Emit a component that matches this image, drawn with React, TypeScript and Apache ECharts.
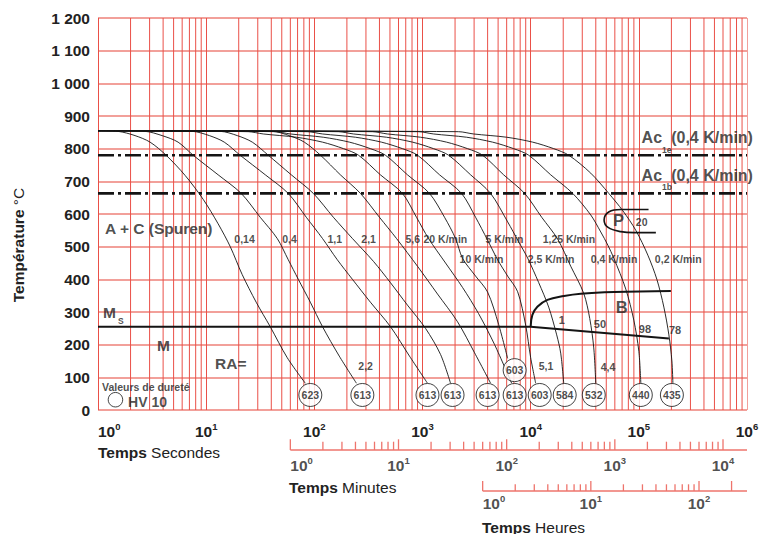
import { useEffect, useRef } from 'react';
import * as echarts from 'echarts';

const FONT = '"Liberation Sans", Arial, Helvetica, sans-serif';
const INK = '#222222';
const LINE_INK = '#141414';
const GRID_RED = '#ea5048';
const GRID_PINK = '#f2a09a';
const SCALE_RED = '#ee746c';

type Pt = [number, number];
type Ann = { text: string; t: number; T: number };

// ---------- axis tick labels ----------
const Y_TICK_LABELS = ['0', '100', '200', '300', '400', '500', '600', '700', '800', '900', '1 000', '1 100', '1 200'];
const SECONDS_EXPONENTS = [0, 1, 2, 3, 4, 5, 6];
const MINUTES_EXPONENTS = [0, 1, 2, 3, 4];
const HOURS_EXPONENTS = [0, 1, 2];
const DECADE_MULTIPLES = [2, 3, 4, 5, 6, 7, 8, 9];
const MINUTE_TICKS = [1, 2, 3, 4, 5, 6, 7, 8, 9, 10, 20, 30, 40, 50, 60, 70, 80, 90, 100, 200, 300, 400, 500, 600, 700, 800, 900, 1000, 2000, 3000, 4000, 5000, 6000, 7000, 8000, 9000, 10000];
const MINUTE_MAJOR = [1, 10, 100, 1000, 10000];
const HOUR_TICKS = [1, 2, 3, 4, 5, 6, 7, 8, 9, 10, 20, 30, 40, 50, 60, 70, 80, 90, 100, 200];
const HOUR_MAJOR = [1, 10, 100, 200];
const SEC_PER_MIN = 60;
const SEC_PER_HOUR = 3600;

// ---------- cooling curves [time s, temperature °C] ----------
const C_014: Pt[] = [[1, 855], [1.53, 853], [2.2, 840], [3.03, 820], [4.26, 780], [6.39, 718], [9.38, 645], [12.9, 570], [16.7, 500], [21.5, 415], [29, 330], [39.1, 255], [56.2, 160], [82.5, 82]];
const C_04: Pt[] = [[1, 855], [2.72, 853], [3.91, 840], [5.5, 820], [7.58, 780], [12.9, 720], [21.1, 663], [31.6, 590], [45.4, 525], [57.4, 460], [71.1, 400], [91.8, 330], [119, 255], [170, 165], [245, 82]];
const C_11: Pt[] = [[1, 855], [7.42, 853], [10.7, 840], [14.7, 820], [20.6, 780], [35.2, 720], [57.4, 663], [84.3, 590], [119, 525], [163, 460], [225, 400], [330, 330], [506, 255], [758, 165], [1112, 82]];
const C_21: Pt[] = [[1, 855], [13.5, 853], [19.4, 840], [26.7, 820], [37.5, 780], [61.2, 720], [97.9, 663], [150, 590], [225, 525], [352, 455], [505, 390], [726, 321], [1066, 250], [1468, 170], [1817, 82]];
const C_56: Pt[] = [[1, 855], [40.8, 853], [58.7, 840], [80.8, 820], [114, 780], [174, 720], [267, 663], [400, 590], [575, 525], [899, 440], [1377, 355], [2109, 270], [3030, 175], [4262, 82]];
const C_20KMIN: Pt[] = [[1, 855], [24.5, 852], [33.7, 845], [68.1, 835], [119, 820], [186, 800], [256, 780], [408, 720], [653, 663], [880, 590], [1137, 525], [1633, 450], [2347, 375], [3300, 295], [4642, 200], [6670, 82]];
const C_10KMIN: Pt[] = [[1, 855], [43.5, 852], [60, 845], [121, 835], [211, 820], [330, 800], [454, 780], [726, 720], [1161, 663], [1598, 590], [2021, 525], [2347, 464], [3095, 410], [3998, 361], [5054, 262], [6124, 158]];
const C_5KMIN: Pt[] = [[1, 855], [86.1, 852], [119, 845], [240, 835], [417, 820], [653, 800], [899, 780], [1437, 720], [2297, 663], [3095, 590], [3998, 520], [4948, 460], [6124, 410], [7579, 362], [8989, 260], [10000, 160], [11125, 82]];
const C_25KMIN: Pt[] = [[1, 855], [167, 852], [230, 845], [464, 835], [808, 820], [1265, 800], [1741, 780], [2783, 720], [4262, 663], [6124, 576], [7743, 515], [9380, 465], [11862, 390], [14678, 315], [17402, 230], [18958, 174], [20214, 82]];
const C_125KMIN: Pt[] = [[1, 855], [344, 852], [474, 845], [958, 835], [1668, 820], [2610, 800], [3594, 780], [5623, 720], [8799, 663], [12646, 590], [17783, 523], [23470, 440], [30950, 357], [35185, 280], [38312, 190], [39990, 82]];
const C_04KMIN: Pt[] = [[1, 855], [918, 852], [1265, 845], [2555, 835], [4446, 820], [6960, 800], [9583, 780], [15318, 720], [24484, 663], [35938, 597], [44463, 545], [51642, 505], [58685, 465], [75790, 370], [89889, 275], [100000, 180], [104350, 82]];
const C_02KMIN: Pt[] = [[1, 855], [2154, 852], [2967, 845], [5995, 835], [10435, 820], [16331, 800], [22480, 780], [35938, 725], [52749, 663], [71101, 610], [93800, 550], [121150, 474], [146780, 400], [170400, 315], [189570, 230], [202140, 150], [206470, 82]];
const COOLING_CURVES = [C_014, C_04, C_11, C_21, C_56, C_20KMIN, C_10KMIN, C_5KMIN, C_25KMIN, C_125KMIN, C_04KMIN, C_02KMIN];

// ---------- transformation lines ----------
const AC1E_TEMP = 780;
const AC1B_TEMP = 663;
const MS_LINE: Pt[] = [[1, 255], [10000, 255], [189600, 219]];
const BAINITE_START: Pt[] = [[10000, 255], [10370, 291], [11530, 316], [14270, 337], [20340, 349], [29040, 356], [59070, 361], [197800, 364]];
const PEARLITE_NOSE: Pt[] = [[122960, 614], [68130, 614], [53090, 607], [47720, 582], [51960, 559], [68130, 546], [90470, 543], [143700, 543]];

// ---------- hardness HV 10 ----------
const HARDNESS_VALUES = ['623', '613', '613', '613', '613', '613', '603', '603', '584', '532', '440', '435'];
const HARDNESS_TIMES = [91.8, 278, 1112, 1896, 3998, 7110, 7110, 12120, 20640, 38310, 104300, 202100];
const HARDNESS_TEMPS = [46, 46, 46, 46, 46, 46, 122, 46, 46, 46, 46, 46];
const LEGEND_CIRCLE: Pt = [1.45, 31.5];

// ---------- annotations ----------
const RATE_LABELS: Ann[] = [
  { text: '0,14', t: 18.2, T: 522 },
  { text: '0,4', t: 50.5, T: 522 },
  { text: '1,1', t: 132, T: 522 },
  { text: '2,1', t: 272, T: 522 },
  { text: '5,6', t: 696, T: 522 },
  { text: '20 K/min', t: 1022, T: 522 },
  { text: '5 K/min', t: 3830, T: 522 },
  { text: '1,25 K/min', t: 12900, T: 522 },
  { text: '10 K/min', t: 2200, T: 461 },
  { text: '2,5 K/min', t: 9380, T: 461 },
  { text: '0,4 K/min', t: 35900, T: 461 },
  { text: '0,2 K/min', t: 140700, T: 461 },
];
const RA_LABELS: Ann[] = [
  { text: '2,2', t: 255, T: 135 },
  { text: '5,1', t: 11860, T: 135 },
  { text: '4,4', t: 44460, T: 132 },
];
const BAINITE_PERCENT: Ann[] = [
  { text: '1', t: 18170, T: 275 },
  { text: '50', t: 38310, T: 262 },
  { text: '98', t: 100000, T: 248 },
  { text: '78', t: 189600, T: 245 },
];
const REGION_LABELS: Ann[] = [
  { text: 'A + C (Spuren)', t: 1.16, T: 557 },
  { text: 'M', t: 1.113, T: 299 },
  { text: 'M', t: 3.52, T: 197 },
  { text: 'RA=', t: 12.1, T: 141 },
];
const PHASE_LETTERS: Ann[] = [
  { text: 'B', t: 61240, T: 314 },
  { text: 'P', t: 57810, T: 582 },
];
const SMALL_NOTES: Ann[] = [
  { text: '20', t: 93800, T: 575 },
  { text: 'Valeurs de dureté', t: 1.089, T: 71 },
];
const SUBSCRIPTS: Ann[] = [
  { text: 'S', t: 1.532, T: 272 },
  { text: '1e', t: 164000, T: 797 },
  { text: '1b', t: 164000, T: 684 },
];
const AC_LABELS: Ann[] = [
  { text: 'Ac', t: 106000, T: 835 },
  { text: '(0,4 K/min)', t: 199000, T: 835 },
  { text: 'Ac', t: 106000, T: 717 },
  { text: '(0,4 K/min)', t: 199000, T: 717 },
];
const HV_LABEL: Ann = { text: 'HV 10', t: 1.896, T: 25 };

const POW_RICH = {
  b: { fontSize: 15.5, fontWeight: 'bold', lineHeight: 20, color: INK, fontFamily: FONT },
  s: { fontSize: 9.5, fontWeight: 'bold', lineHeight: 9, verticalAlign: 'top', color: INK, fontFamily: FONT },
};
const powText = (e: number) => `{b|10}{s|${e}}`;

function annItems(list: Ann[], size: number, weight: string = 'bold') {
  return list.map((a) => ({
    value: [a.t, a.T],
    label: { formatter: a.text, fontSize: size, fontWeight: weight },
  }));
}

export default function App() {
  const ref = useRef<HTMLDivElement>(null);

  useEffect(() => {
    document.body.style.margin = '0';
    const chart = echarts.init(ref.current!, null, { renderer: 'svg', width: 759, height: 534 });

    const vgrid: number[][] = [];
    for (const e of [0, 1, 2, 3, 4, 5]) for (const m of DECADE_MULTIPLES) vgrid.push([m * Math.pow(10, e), 0]);

    const minuteTicks = MINUTE_TICKS.map((m) => [m * SEC_PER_MIN, 45, MINUTE_MAJOR.includes(m) ? 55.7 : 53.3]);
    const hourTicks = HOUR_TICKS.map((h) => [h * SEC_PER_HOUR, 43, HOUR_MAJOR.includes(h) ? 53 : 49.7]);

    const tickRender = (color: string) => (_p: any, api: any) => {
      const a = api.coord([api.value(0), api.value(1)]);
      const b = api.coord([api.value(0), api.value(2)]);
      return { type: 'line', shape: { x1: a[0], y1: a[1], x2: b[0], y2: b[1] }, style: { stroke: color, lineWidth: 1.3 } };
    };

    const lineBase = {
      type: 'line',
      showSymbol: false,
      symbol: 'none',
      silent: true,
      animation: false,
      xAxisIndex: 0,
      yAxisIndex: 0,
    };

    const series: any[] = [
      {
        type: 'custom',
        xAxisIndex: 0,
        yAxisIndex: 0,
        z: 1,
        silent: true,
        renderItem: (_p: any, api: any) => {
          const a = api.coord([api.value(0), 0]);
          const b = api.coord([api.value(0), 1200]);
          return { type: 'line', shape: { x1: a[0], y1: a[1], x2: b[0], y2: b[1] }, style: { stroke: GRID_RED, lineWidth: 1 } };
        },
        data: vgrid,
      },
      {
        ...lineBase,
        z: 3,
        data: [[1, AC1E_TEMP], [1e6, AC1E_TEMP]],
        lineStyle: { color: LINE_INK, width: 2.6, type: [16, 4, 3, 4] },
      },
      {
        ...lineBase,
        z: 3,
        data: [[1, AC1B_TEMP], [1e6, AC1B_TEMP]],
        lineStyle: { color: LINE_INK, width: 2.6, type: [16, 4, 3, 4] },
      },
      ...COOLING_CURVES.map((c) => ({
        ...lineBase,
        z: 3,
        data: c,
        smooth: 0.3,
        lineStyle: { color: LINE_INK, width: 0.9 },
      })),
      { ...lineBase, z: 4, data: MS_LINE, lineStyle: { color: LINE_INK, width: 2 } },
      { ...lineBase, z: 4, data: BAINITE_START, smooth: 0.4, lineStyle: { color: LINE_INK, width: 2 } },
      { ...lineBase, z: 4, data: PEARLITE_NOSE, smooth: 0.4, lineStyle: { color: LINE_INK, width: 1.6 } },
      {
        type: 'scatter',
        xAxisIndex: 0,
        yAxisIndex: 0,
        z: 5,
        silent: true,
        symbol: 'circle',
        symbolSize: 23,
        itemStyle: { color: '#ffffff', borderColor: LINE_INK, borderWidth: 1 },
        label: { show: true, position: 'inside', formatter: '{b}', fontSize: 10.5, fontWeight: 'bold', color: '#1a1a1a', fontFamily: FONT },
        data: HARDNESS_VALUES.map((v, i) => ({ name: v, value: [HARDNESS_TIMES[i], HARDNESS_TEMPS[i]] })),
      },
      {
        type: 'scatter',
        xAxisIndex: 0,
        yAxisIndex: 0,
        z: 5,
        silent: true,
        symbol: 'circle',
        symbolSize: 14.5,
        itemStyle: { color: '#ffffff', borderColor: LINE_INK, borderWidth: 1 },
        data: [LEGEND_CIRCLE],
      },
      {
        type: 'scatter',
        xAxisIndex: 0,
        yAxisIndex: 0,
        z: 6,
        silent: true,
        symbolSize: 0,
        itemStyle: { color: 'rgba(0,0,0,0)' },
        label: { show: true, position: 'right', distance: 0, color: INK, fontFamily: FONT },
        data: [
          ...annItems(RATE_LABELS, 10.5),
          ...annItems(RA_LABELS, 10.5),
          ...annItems(BAINITE_PERCENT, 11),
          ...annItems(REGION_LABELS, 15.5),
          ...annItems(PHASE_LETTERS, 16.5),
          ...annItems(SMALL_NOTES, 10.5),
          ...annItems(SUBSCRIPTS, 8.5),
          ...annItems(AC_LABELS, 16),
          ...annItems([HV_LABEL], 14),
        ],
      },
      // minutes scale
      {
        type: 'line', xAxisIndex: 1, yAxisIndex: 1, showSymbol: false, symbol: 'none', silent: true,
        data: [[SEC_PER_MIN, 45], [1e6, 45]], lineStyle: { color: SCALE_RED, width: 1.4 },
      },
      { type: 'custom', xAxisIndex: 1, yAxisIndex: 1, silent: true, renderItem: tickRender(SCALE_RED), data: minuteTicks },
      {
        type: 'scatter', xAxisIndex: 1, yAxisIndex: 1, silent: true, symbolSize: 0, itemStyle: { color: 'rgba(0,0,0,0)' },
        label: { show: true, position: 'inside', rich: POW_RICH },
        data: MINUTES_EXPONENTS.map((e, i) => ({
          value: [Math.pow(10, e) * SEC_PER_MIN, 30],
          label: { formatter: powText(e), align: i === 0 ? 'left' : 'center' },
        })),
      },
      // hours scale
      {
        type: 'line', xAxisIndex: 2, yAxisIndex: 2, showSymbol: false, symbol: 'none', silent: true,
        data: [[SEC_PER_HOUR, 43], [1e6, 43]], lineStyle: { color: SCALE_RED, width: 1.4 },
      },
      { type: 'custom', xAxisIndex: 2, yAxisIndex: 2, silent: true, renderItem: tickRender(SCALE_RED), data: hourTicks },
      {
        type: 'scatter', xAxisIndex: 2, yAxisIndex: 2, silent: true, symbolSize: 0, itemStyle: { color: 'rgba(0,0,0,0)' },
        label: { show: true, position: 'inside', rich: POW_RICH },
        data: HOURS_EXPONENTS.map((e, i) => ({
          value: [Math.pow(10, e) * SEC_PER_HOUR, 31],
          label: { formatter: powText(e), align: i === 0 ? 'left' : 'center' },
        })),
      },
    ];

    const titleRich = {
      b: { fontSize: 15.5, fontWeight: 'bold', fill: INK, fontFamily: FONT },
      r: { fontSize: 15.5, fontWeight: 'normal', fill: INK, fontFamily: FONT },
    };
    const titleText = (x: number, y: number, bold: string, rest: string, rotation = 0, align = 'left') => ({
      type: 'text',
      x,
      y,
      rotation,
      silent: true,
      style: {
        text: `{b|${bold}} {r|${rest}}`,
        rich: titleRich,
        fontSize: 15.5,
        fontFamily: FONT,
        fill: INK,
        align,
        verticalAlign: 'middle',
        textAlign: align,
        textVerticalAlign: 'middle',
      },
    });

    const option: any = {
      animation: false,
      backgroundColor: '#ffffff',
      textStyle: { fontFamily: FONT },
      grid: [
        { left: 98, top: 18, width: 649, height: 392, containLabel: false, outerBoundsMode: 'none' },
        { left: 98, top: 430, width: 649, height: 65, containLabel: false, outerBoundsMode: 'none' },
        { left: 98, top: 470, width: 649, height: 64, containLabel: false, outerBoundsMode: 'none' },
      ],
      xAxis: [
        {
          gridIndex: 0,
          type: 'log',
          logBase: 10,
          min: 1,
          max: 1e6,
          splitNumber: 6,
          axisLine: { show: false },
          axisTick: { show: false },
          minorTick: { show: false },
          splitLine: {
            show: true,
            showMinLine: true,
            showMaxLine: true,
            lineStyle: { color: [GRID_RED, GRID_RED, GRID_RED, GRID_RED, GRID_RED, GRID_RED, GRID_PINK], width: 1 },
          },
          axisLabel: {
            show: true,
            margin: 11,
            color: INK,
            fontFamily: FONT,
            fontSize: 15.5,
            fontWeight: 'bold',
            alignMinLabel: 'left',
            formatter: (v: number) => {
              const e = SECONDS_EXPONENTS.find((k) => Math.abs(Math.pow(10, k) - v) < 1e-6 * v);
              return e === undefined ? '' : powText(e);
            },
            rich: POW_RICH,
          },
        },
        { gridIndex: 1, type: 'log', logBase: 10, min: 1, max: 1e6, show: false },
        { gridIndex: 2, type: 'log', logBase: 10, min: 1, max: 1e6, show: false },
      ],
      yAxis: [
        {
          gridIndex: 0,
          type: 'value',
          min: 0,
          max: 1200,
          interval: 100,
          axisLine: { show: false },
          axisTick: { show: false },
          axisLabel: {
            margin: 8,
            color: INK,
            fontFamily: FONT,
            fontSize: 15.5,
            fontWeight: 'bold',
            formatter: (v: number) => Y_TICK_LABELS[Math.round(v / 100)] ?? '',
          },
          splitLine: { show: true, lineStyle: { color: GRID_PINK, width: 2 } },
        },
        { gridIndex: 1, type: 'value', min: 0, max: 65, show: false },
        { gridIndex: 2, type: 'value', min: 0, max: 64, show: false },
      ],
      graphic: [
        titleText(98, 452, 'Temps', 'Secondes'),
        titleText(289, 487, 'Temps', 'Minutes'),
        titleText(482, 527, 'Temps', 'Heures'),
        titleText(18, 245, 'Température', '°C', Math.PI / 2, 'center'),
      ],
      series,
    };

    chart.setOption(option);
    return () => chart.dispose();
  }, []);

  return (
    <div
      ref={ref}
      style={{ position: 'absolute', left: 0, top: 0, width: 759, height: 534, background: '#fff' }}
    />
  );
}
